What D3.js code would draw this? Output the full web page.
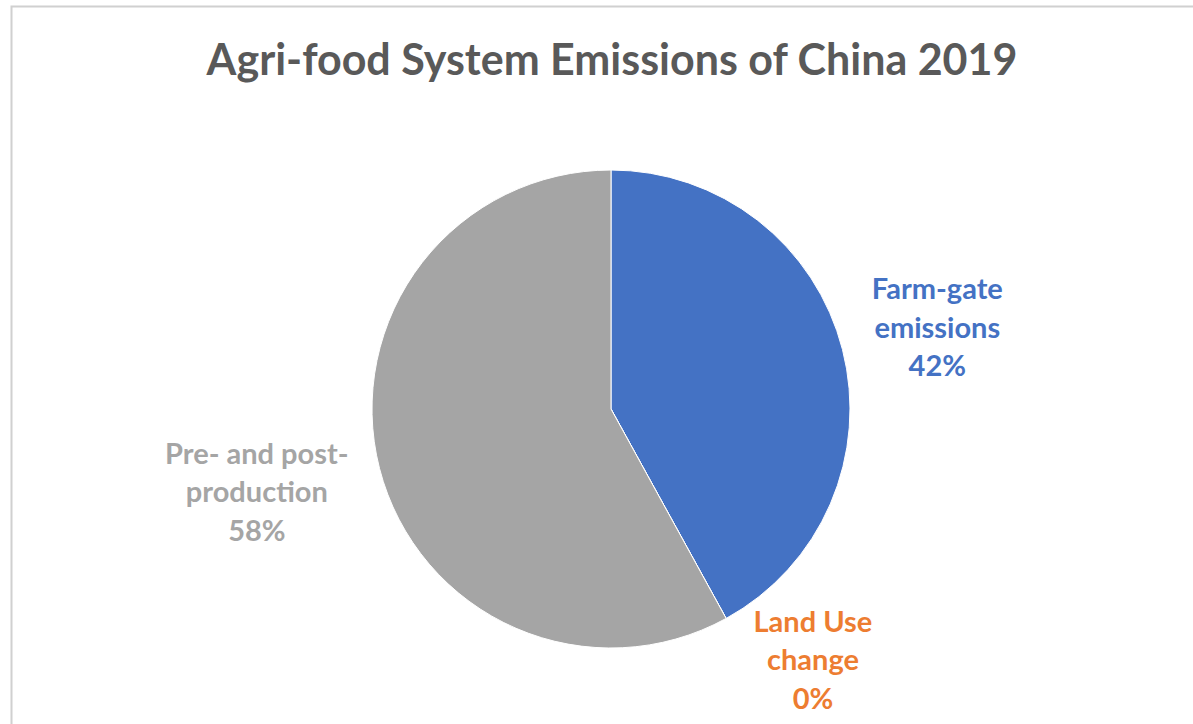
<!DOCTYPE html>
<html>
<head>
<meta charset="utf-8">
<script src="https://cdn.jsdelivr.net/npm/d3@7"></script>
<style>
  html, body { margin: 0; padding: 0; background: #ffffff; }
  svg { display: block; }
</style>
</head>
<body>
<svg id="chart" width="1193" height="724"></svg>
<script>
const title = "Agri-food System Emissions of China 2019";
const categories = ["Farm-gate emissions", "Land Use change", "Pre- and post-production"];
const values = [42, 0, 58];
const labelLines = [["Farm-gate", "emissions"], ["Land Use", "change"], ["Pre- and post-", "production"]];
const colors = ["#4472C4", "#ED7D31", "#A5A5A5"];

const W = 1193, H = 724;
const cx = 611, cy = 409, r = 239;
// label placement (style): radius and angle nudge per slice, in px/deg
const labelPlace = [{ rad: 336, dAng: 0.6 }, { rad: 323, dAng: -9.9 }, { rad: 364, dAng: 1.05 }];

const svg = d3.select("#chart");

// chart frame
svg.append("rect")
  .attr("x", 11.5).attr("y", 6.5)
  .attr("width", W + 20).attr("height", H + 20)
  .attr("fill", "#ffffff")
  .attr("stroke", "#d0d0d0")
  .attr("stroke-width", 2);

svg.append("text")
  .attr("x", 612).attr("y", 75)
  .attr("text-anchor", "middle")
  .attr("font-family", "Lato, 'Open Sans', sans-serif")
  .attr("font-weight", 700)
  .attr("font-size", 43)
  .attr("fill", "#595959")
  .text(title);

const data = categories.map((c, i) => ({ cat: c, value: values[i], color: colors[i], lines: labelLines[i], place: labelPlace[i] }));

const pie = d3.pie().sort(null).value(d => d.value);
const arcs = pie(data);
const arc = d3.arc().innerRadius(0).outerRadius(r);

const g = svg.append("g").attr("transform", `translate(${cx},${cy})`);

g.selectAll("path.slice")
  .data(arcs)
  .join("path")
  .attr("class", "slice")
  .attr("d", arc)
  .attr("fill", d => d.data.color)
  .attr("stroke", "#ffffff")
  .attr("stroke-width", 1);

const total = d3.sum(values);
const fmt = v => Math.round(v / total * 100) + "%";

const lineH = 38.5;
arcs.forEach(a => {
  const mid = (a.startAngle + a.endAngle) / 2 + a.data.place.dAng * Math.PI / 180;
  const lx = Math.sin(mid) * a.data.place.rad;
  const ly = -Math.cos(mid) * a.data.place.rad;
  const lines = a.data.lines.concat([fmt(a.data.value)]);
  const t = g.append("text")
    .attr("text-anchor", "middle")
    .attr("font-family", "Lato, 'Open Sans', sans-serif")
    .attr("font-weight", 700)
    .attr("font-size", 29)
    .attr("fill", a.data.color);
  lines.forEach((s, i) => {
    t.append("tspan")
      .attr("x", lx)
      .attr("y", ly + (i - 1) * lineH + 9)
      .text(s);
  });
});
</script>
</body>
</html>
